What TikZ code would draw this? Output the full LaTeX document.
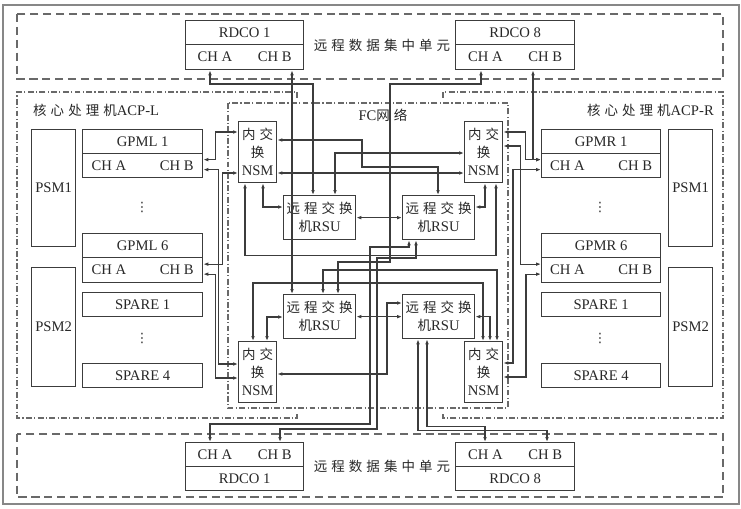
\documentclass[tikz,border=0pt]{standalone}
\usepackage{fontspec}
\setmainfont{Liberation Serif}
\newfontfamily\cjk[LetterSpace=30,Scale=0.92]{Noto Sans CJK SC}
\newfontfamily\symf{DejaVu Sans}
\usetikzlibrary{arrows.meta,calc}
\definecolor{linegray}{RGB}{60,60,60}
\definecolor{framegray}{RGB}{105,105,105}
\definecolor{textgray}{RGB}{40,40,40}

\begin{document}
\begin{tikzpicture}[x=0.03cm, y=-0.03cm,
  font=\fontsize{12.5}{15.5}\selectfont, text=textgray,
  >={Latex[length=1.5mm,width=1.1mm]},
  wh/.style 2 args={minimum width=#1*0.03cm, minimum height=#2*0.03cm},
  blk/.style={draw=linegray, line width=1.1pt, rectangle, inner sep=0pt, anchor=north west, align=center},
  conn/.style={<->, draw=linegray, line width=0.95pt},
  dashframe/.style={draw=framegray, line width=1pt, dash pattern=on 7pt off 4pt},
  dotframe/.style={draw=framegray, line width=0.9pt, dash pattern=on 5pt off 2pt on 1pt off 2pt},
  lbl/.style={inner sep=0pt},
  vdot/.style={inner sep=0pt, font=\symf\fontsize{11}{11}\selectfont}
]
\useasboundingbox (0,0) rectangle (741,508);
\fill[white] (0,0) rectangle (741,508);

% Frames
\draw[framegray!80, line width=1.2pt] (3,5) rectangle (739,504);
\draw[dashframe] (17,14) rectangle (723,79);
\draw[dashframe] (17,434) rectangle (723,497);
\draw[dotframe] (297,98) -- (297,92) -- (17,92) -- (17,418) -- (297,418) -- (297,412);
\draw[dotframe] (443,98) -- (443,92) -- (723,92) -- (723,418) -- (443,418) -- (443,412);
\draw[dotframe] (228,103) rectangle (508,408);

% Frame labels
\node[lbl] (unitT) at (382,45) {\cjk 远程数据集中单元};
\node[lbl] (unitB) at (382,466) {\cjk 远程数据集中单元};
\node[lbl, anchor=west] (acpL) at (33,110) {{\cjk 核心处理机}ACP-L};
\node[lbl, anchor=east] (acpR) at (714,110) {{\cjk 核心处理机}ACP-R};
\node[lbl] (fcnet) at (383,115) {FC{\cjk 网络}};

% Remote data concentrators, top
\node[blk, wh={118}{24}] (rdcoTa) at (185,20) {RDCO 1};
\node[blk, wh={118}{25}] (rdcoTaCh) at (185,44) {\makebox[2.82cm]{CH A\hfill CH B}};
\node[blk, wh={119}{24}] (rdcoTb) at (455,20) {RDCO 8};
\node[blk, wh={119}{25}] (rdcoTbCh) at (455,44) {\makebox[2.82cm]{CH A\hfill CH B}};

% Remote data concentrators, bottom
\node[blk, wh={118}{24}] (rdcoBaCh) at (185,442) {\makebox[2.82cm]{CH A\hfill CH B}};
\node[blk, wh={118}{24}] (rdcoBa) at (185,466) {RDCO 1};
\node[blk, wh={119}{24}] (rdcoBbCh) at (455,442) {\makebox[2.82cm]{CH A\hfill CH B}};
\node[blk, wh={119}{24}] (rdcoBb) at (455,466) {RDCO 8};

% ACP-L modules
\node[blk, wh={44}{117}] (psmLA) at (31,129) {PSM1};
\node[blk, wh={44}{119}] (psmLB) at (31,267) {PSM2};
\node[blk, wh={120}{24}] (gpmlA) at (82,129) {GPML 1};
\node[blk, wh={120}{24}] (gpmlACh) at (82,153) {\makebox[3.06cm]{CH A\hfill CH B}};
\node[blk, wh={120}{24}] (gpmlF) at (82,233) {GPML 6};
\node[blk, wh={120}{25}] (gpmlFCh) at (82,257) {\makebox[3.06cm]{CH A\hfill CH B}};
\node[blk, wh={120}{24}] (spareLA) at (82,292) {SPARE 1};
\node[blk, wh={120}{24}] (spareLD) at (82,363) {SPARE 4};
\node[vdot] (dotsLA) at (142,207) {⋮};
\node[vdot] (dotsLB) at (142,338) {⋮};

% ACP-R modules
\node[blk, wh={44}{117}] (psmRA) at (668,129) {PSM1};
\node[blk, wh={44}{119}] (psmRB) at (668,267) {PSM2};
\node[blk, wh={119}{24}] (gpmrA) at (541,129) {GPMR 1};
\node[blk, wh={119}{24}] (gpmrACh) at (541,153) {\makebox[3.06cm]{CH A\hfill CH B}};
\node[blk, wh={119}{24}] (gpmrF) at (541,233) {GPMR 6};
\node[blk, wh={119}{25}] (gpmrFCh) at (541,257) {\makebox[3.06cm]{CH A\hfill CH B}};
\node[blk, wh={119}{24}] (spareRA) at (541,292) {SPARE 1};
\node[blk, wh={119}{24}] (spareRD) at (541,363) {SPARE 4};
\node[vdot] (dotsRA) at (600,207) {⋮};
\node[vdot] (dotsRB) at (600,338) {⋮};

% FC network switches
\node[blk, wh={38}{61}] (nsmTL) at (238,121) {{\cjk 内交}\\{\cjk 换}\\NSM};
\node[blk, wh={38}{61}] (nsmTR) at (464,121) {{\cjk 内交}\\{\cjk 换}\\NSM};
\node[blk, wh={38}{61}] (nsmBL) at (238,341) {{\cjk 内交}\\{\cjk 换}\\NSM};
\node[blk, wh={38}{61}] (nsmBR) at (464,341) {{\cjk 内交}\\{\cjk 换}\\NSM};
\node[blk, wh={72}{44}] (rsuTL) at (283,195) {{\cjk 远程交换}\\{\cjk 机}RSU};
\node[blk, wh={72}{44}] (rsuTR) at (402,195) {{\cjk 远程交换}\\{\cjk 机}RSU};
\node[blk, wh={72}{44}] (rsuBL) at (283,294) {{\cjk 远程交换}\\{\cjk 机}RSU};
\node[blk, wh={72}{44}] (rsuBR) at (402,294) {{\cjk 远程交换}\\{\cjk 机}RSU};

% Top RDCO links
\draw[conn] ($(rdcoTaCh.south west)+(25,0)$) |- (313,84) -- ($(rsuTL.north west)+(30,0)$);
\draw[conn] ($(rdcoTaCh.south west)+(107,0)$) -- ($(rsuBL.north west)+(9,0)$);
\draw[conn] ($(rdcoTbCh.south west)+(26,0)$) |- (390,84) -- (390,262) -| ($(rsuBL.north west)+(55,0)$);
\draw[conn] ($(rdcoTbCh.south west)+(78,0)$) |- ($(gpmrACh.west)+(0,-6)$);

% ACP-L to NSM
\draw[conn] ($(gpmlACh.east)+(0,-6)$) -- ++(12,0) |- ($(nsmTL.north west)+(0,11)$);
\draw[conn] ($(gpmlACh.east)+(0,4)$) -- ++(15,0) |- ($(nsmBL.north west)+(0,23)$);
\draw[conn] ($(gpmlFCh.east)+(0,-6)$) -- ++(19,0) |- ($(nsmTL.north west)+(0,52)$);
\draw[conn] ($(gpmlFCh.east)+(0,4)$) -- ++(12,0) |- ($(nsmBL.north west)+(0,37)$);

% ACP-R to NSM
\draw[conn] ($(nsmTR.north east)+(0,11)$) -- ++(22,0) |- ($(gpmrACh.west)+(0,-6)$);
\draw[conn] ($(gpmrACh.west)+(0,4)$) -- ++(-28,0) |- ($(nsmBR.north east)+(0,22)$);
\draw[conn] ($(nsmTR.north east)+(0,25)$) -- ++(17,0) |- ($(gpmrFCh.west)+(0,-6)$);
\draw[conn] ($(gpmrFCh.west)+(0,4)$) -- ++(-15,0) |- ($(nsmBR.north east)+(0,36)$);

% Switch fabric, upper half
\draw[conn] ($(nsmTL.north east)+(0,52)$) -- ($(nsmTR.north west)+(0,52)$);
\draw[conn] ($(nsmTL.north east)+(0,19)$) -| (362,167) -| ($(rsuTR.north west)+(36,0)$);
\draw[conn] ($(rsuTL.north west)+(52,0)$) |- ($(nsmTR.north west)+(0,32)$);
\draw[conn] ($(nsmTL.south west)+(25,0)$) |- ($(rsuTL.north west)+(0,12)$);
\draw[conn] ($(nsmTL.south west)+(7,0)$) -- ++(0,72) -| ($(nsmTR.south west)+(32,0)$);
\draw[conn] ($(nsmTR.south west)+(21,0)$) |- ($(rsuTR.north east)+(0,12)$);
\draw[conn] (rsuTL.east) -- (rsuTR.west);

% RSU to bottom RDCO 1
\draw[conn] ($(rsuTR.south west)+(7,0)$) |- (370,247) -- (370,424) -| ($(rdcoBaCh.north west)+(25,0)$);
\draw[conn] ($(rsuTR.south west)+(14,0)$) |- (377,258) -- (377,429) -| ($(rdcoBaCh.north west)+(95,0)$);

% Switch fabric, lower half
\draw[conn] ($(nsmBL.north west)+(29,0)$) |- ($(rsuBL.north west)+(0,23)$);
\draw[conn] ($(nsmBL.north west)+(15,0)$) -- ++(0,-58) -| ($(nsmBR.north west)+(19,0)$);
\draw[conn] (rsuBL.east) -- (rsuBR.west);
\draw[conn] ($(nsmBL.north east)+(0,33)$) -| (387,303) -- ($(rsuBR.north west)+(0,9)$);
\draw[conn] (rsuBR.east) -| ($(nsmBR.north west)+(26,0)$);
\draw[conn] ($(rsuBL.north west)+(40,0)$) -- ++(0,-24) -| ($(nsmBR.north west)+(33,0)$);

% RSU to bottom RDCO 8
\draw[conn] ($(rsuBR.south west)+(25,0)$) -- ++(0,87) -| ($(rdcoBbCh.north west)+(30,0)$);
\draw[conn] ($(rsuBR.south west)+(16,0)$) -- ++(0,91) -| ($(rdcoBbCh.north west)+(92,0)$);

\end{tikzpicture}
\end{document}
